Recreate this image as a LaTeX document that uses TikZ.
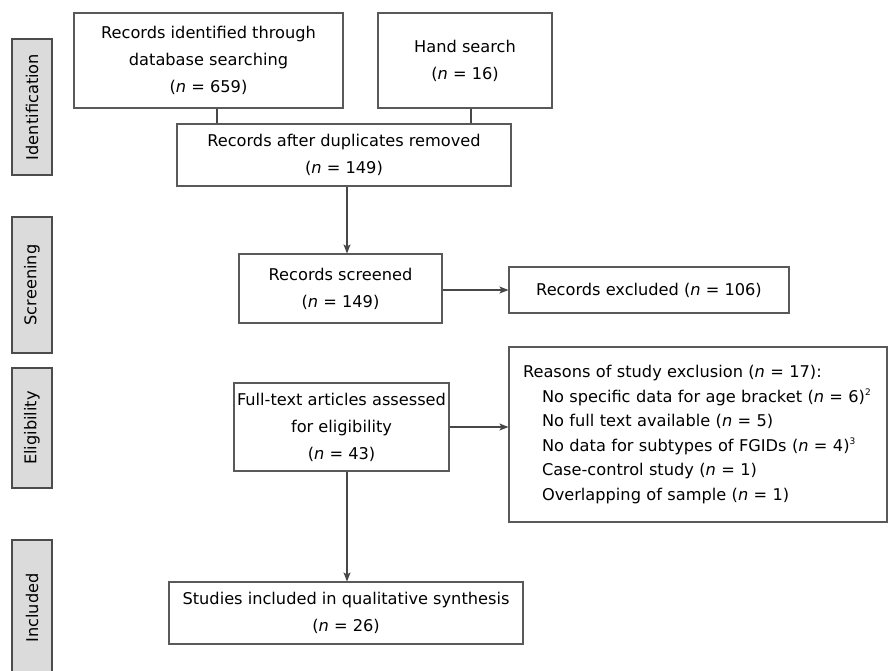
\documentclass[tikz,border=0pt]{standalone}
\usepackage{fontspec}
\setmainfont{DejaVu Sans}
\usepackage{tikz}
\usetikzlibrary{positioning, arrows.meta, calc}

\begin{document}
\begin{tikzpicture}[x=1pt, y=-1pt, font=\fontsize{16.2}{27}\selectfont,
    box/.style={draw=black!65, line width=1.1pt, align=center, inner sep=0pt},
    stage/.style={draw=black!70, fill=black!14, line width=1.1pt, rotate=90,
                  minimum height=40pt, inner sep=0pt},
    link/.style={draw=black!72, line width=1.1pt},
    flow/.style={link, -{Stealth[length=9pt, width=7pt, inset=2pt]}}]
  \useasboundingbox (0,0) rectangle (888,670);

  % stage labels on the left
  \node[stage, minimum width=136pt] (sid) at (32,107) {Identification};
  \node[stage, minimum width=136pt] (sscr) at (32,285) {Screening};
  \node[stage, minimum width=120pt] (selig) at (32,428) {Eligibility};
  \node[stage, minimum width=136pt] (sinc) at (32,608) {Included};

  % flow boxes
  \node[box, minimum width=269pt, minimum height=95pt] (db) at (208.5,60.5)
        {Records identified through\\ database searching\\ (\textit{n} = 659)};
  \node[box, minimum width=174pt, minimum height=95pt] (hand) at (465,60.5)
        {Hand search\\ (\textit{n} = 16)};
  \node[box, minimum width=334pt, minimum height=62pt] (dup) at (344,155)
        {Records after duplicates removed\\ (\textit{n} = 149)};
  \node[box, minimum width=203pt, minimum height=69pt] (scr) at (340.5,288.5)
        {Records screened\\ (\textit{n} = 149)};
  \node[box, minimum width=280pt, minimum height=46pt] (excl) at (649,290)
        {Records excluded (\textit{n} = 106)};
  \node[box, minimum width=215pt, minimum height=88pt] (full) at (341.5,427)
        {Full-text articles assessed\\ for eligibility\\ (\textit{n} = 43)};
  \node[box, align=left, text width=350pt, inner xsep=14pt, minimum height=175pt,
        font=\fontsize{16.2}{24.5}\selectfont] (why) at (698,434.5)
        {Reasons of study exclusion (\textit{n} = 17):\\
         \hspace*{19pt}No specific data for age bracket (\textit{n} = 6)\textsuperscript{\fontsize{9}{9}\selectfont 2}\\
         \hspace*{19pt}No full text available (\textit{n} = 5)\\
         \hspace*{19pt}No data for subtypes of FGIDs (\textit{n} = 4)\textsuperscript{\fontsize{9}{9}\selectfont 3}\\
         \hspace*{19pt}Case-control study (\textit{n} = 1)\\
         \hspace*{19pt}Overlapping of sample (\textit{n} = 1)};
  \node[box, minimum width=354pt, minimum height=62pt] (incl) at (346,613)
        {Studies included in qualitative synthesis\\ (\textit{n} = 26)};

  % connectors
  \draw[link] ([xshift=8.5pt]db.south) -- ([xshift=8.5pt]db.south |- dup.north);
  \draw[link] ([xshift=6pt]hand.south) -- ([xshift=6pt]hand.south |- dup.north);
  \draw[flow] ([xshift=3pt]dup.south) -- ([xshift=3pt]dup.south |- scr.north);
  \draw[flow] (scr.east |- excl.west) -- (excl.west);
  \draw[flow] (full.east) -- (full.east -| why.west);
  \draw[flow] ([xshift=5.5pt]full.south) -- ([xshift=5.5pt]full.south |- incl.north);
\end{tikzpicture}
\end{document}
